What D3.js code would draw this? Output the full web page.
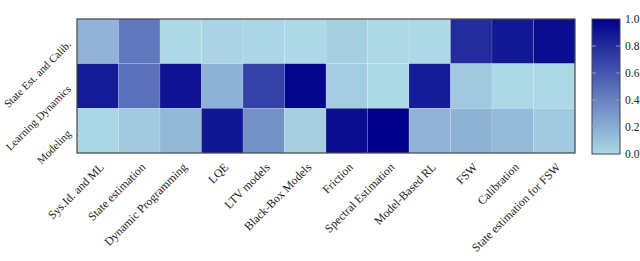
<!DOCTYPE html>
<html>
<head>
<meta charset="utf-8">
<script src="https://cdn.jsdelivr.net/npm/d3@7"></script>
<style>
  body { margin: 0; background: #fff; }
  svg { display: block; }
  text { font-family: "Liberation Serif", "Times New Roman", serif; fill: #222; }
</style>
</head>
<body>
<svg id="chart" width="640" height="261"></svg>
<script>
'use strict';

const topics = ["Sys.Id. and ML", "State estimation", "Dynamic Programming", "LQE", "LTV models",
    "Black-Box Models", "Friction", "Spectral Estimation", "Model-Based RL", "FSW",
    "Calibration", "State estimation for FSW"];
const groups = ["State Est. and Calib.", "Learning Dynamics", "Modeling"];

// one array per row, same order as topics
const stateEstCalib = [0.17, 0.45, 0.00, 0.02, 0.01, 0.00, 0.04, 0.00, 0.00, 0.80, 0.89, 0.94];
const learningDynamics = [0.88, 0.48, 0.91, 0.18, 0.70, 0.97, 0.05, 0.00, 0.87, 0.07, 0.00, 0.00];
const modeling = [0.01, 0.07, 0.15, 0.90, 0.33, 0.04, 0.94, 1.00, 0.17, 0.18, 0.14, 0.07];
const rows = [stateEstCalib, learningDynamics, modeling];

const colorTicks = [0.0, 0.2, 0.4, 0.6, 0.8, 1.0];

const svg = d3.select("#chart");
const plotLeft = 77, plotRight = 575, plotTop = 19, plotBottom = 153;

const x = d3.scaleBand().domain(topics).range([plotLeft, plotRight]);
const y = d3.scaleBand().domain(groups).range([plotTop, plotBottom]);
const color = d3.scaleLinear().domain([0, 1]).range(["lightblue", "darkblue"]).interpolate(d3.interpolateRgb);

// cells
const cells = [];
rows.forEach(function (vals, i) {
    vals.forEach(function (v, j) {
        cells.push({ group: groups[i], topic: topics[j], value: v });
    });
});

svg.append("g").selectAll("rect")
    .data(cells)
    .enter().append("rect")
    .attr("x", d => x(d.topic))
    .attr("y", d => y(d.group))
    .attr("width", x.bandwidth())
    .attr("height", y.bandwidth())
    .attr("fill", d => color(d.value))
    .attr("stroke", "rgba(255,255,255,0.25)")
    .attr("stroke-width", 0.5);

svg.append("rect")
    .attr("x", plotLeft).attr("y", plotTop)
    .attr("width", plotRight - plotLeft).attr("height", plotBottom - plotTop)
    .attr("fill", "none").attr("stroke", "#444").attr("stroke-width", 1.2);

// x labels, rotated
svg.append("g").selectAll("text")
    .data(topics)
    .enter().append("text")
    .attr("transform", d => "translate(" + (x(d) + x.bandwidth() / 2 + 4) + "," + 165 + ") rotate(-45)")
    .attr("text-anchor", "end")
    .attr("dy", "0.35em")
    .style("font-size", "11.8px")
    .text(d => d);

// y labels, rotated
svg.append("g").selectAll("text")
    .data(groups)
    .enter().append("text")
    .attr("transform", d => "translate(" + (plotLeft - 8) + "," + (y(d) + y.bandwidth() / 2 + 1) + ") rotate(-45)")
    .attr("text-anchor", "end")
    .attr("dy", "0.35em")
    .style("font-size", "11px")
    .text(d => d);

// colorbar
const cbLeft = 592, cbWidth = 28;
const cbY = d3.scaleLinear().domain([0, 1]).range([plotBottom + 1, plotTop]);

const defs = svg.append("defs");
const grad = defs.append("linearGradient")
    .attr("id", "cbgrad")
    .attr("x1", "0").attr("y1", "1").attr("x2", "0").attr("y2", "0");
d3.range(0, 1.01, 0.1).forEach(function (t) {
    grad.append("stop").attr("offset", t).attr("stop-color", color(t));
});

svg.append("rect")
    .attr("x", cbLeft).attr("y", cbY(1))
    .attr("width", cbWidth).attr("height", cbY(0) - cbY(1))
    .attr("fill", "url(#cbgrad)")
    .attr("stroke", "#444").attr("stroke-width", 1);

const cbTicks = svg.append("g");
colorTicks.forEach(function (t) {
    if (t > 0 && t < 1) {
        cbTicks.append("line")
            .attr("x1", cbLeft).attr("x2", cbLeft + 4)
            .attr("y1", cbY(t)).attr("y2", cbY(t))
            .attr("stroke", "#999").attr("stroke-width", 1);
        cbTicks.append("line")
            .attr("x1", cbLeft + cbWidth - 4).attr("x2", cbLeft + cbWidth)
            .attr("y1", cbY(t)).attr("y2", cbY(t))
            .attr("stroke", "#999").attr("stroke-width", 1);
    }
    cbTicks.append("text")
        .attr("x", cbLeft + cbWidth + 5)
        .attr("y", cbY(t))
        .attr("dy", "0.35em")
        .style("font-size", "11.5px")
        .text(d3.format(".1f")(t));
});
</script>
</body>
</html>
